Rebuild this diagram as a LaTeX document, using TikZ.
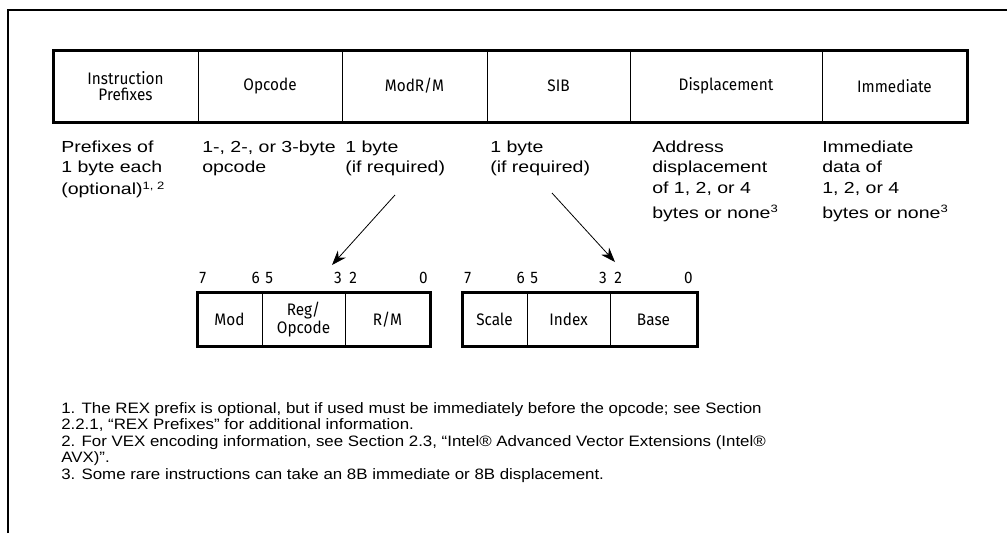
\documentclass[tikz,border=0pt]{standalone}
\usepackage{fontspec}
\setmainfont{Liberation Sans}
\newfontfamily\clearfont[FakeStretch=0.92]{Fira Sans}
\newfontfamily\descfont[FakeStretch=1.22]{Liberation Sans}
\newfontfamily\notefont[FakeStretch=1.12]{Liberation Sans}
\usetikzlibrary{arrows.meta, positioning}

\tikzset{
  field/.style={draw, line width=0.75pt, inner sep=0pt, outer sep=0pt,
    minimum height=54pt, align=center,
    font=\clearfont\fontsize{12.5}{12}\selectfont},
  bitfield/.style={draw, line width=0.75pt, inner sep=0pt, outer sep=0pt,
    minimum height=41pt, align=center,
    font=\clearfont\fontsize{12.5}{13}\selectfont},
  bitno/.style={inner sep=0pt, font=\clearfont\fontsize{12.5}{12}\selectfont},
  desc/.style={anchor=north west, inner sep=0pt, align=left,
    font=\descfont\fontsize{12}{15.5}\selectfont},
  note/.style={anchor=north west, inner sep=0pt, align=left,
    font=\notefont\fontsize{11.3}{12.4}\selectfont},
  pointer/.style={line width=0.6pt, -{Stealth[length=11pt, width=8pt]}},
  outline/.style={line width=2.25pt}
}

\begin{document}
\begin{tikzpicture}[x=0.75pt, y=-0.75pt]
  \useasboundingbox (0,0) rectangle (1007,533);

  % page frame
  \draw[line width=1.9pt] (8,533) -- (8,10) -- (1007,10);

  % instruction format fields
  \foreach \name/\l/\r/\txt in {prefix/53/198/{Instruction\\Prefixes},
      opcode/198/342/Opcode, modrm/342/487/{ModR/M}, sib/487/630/SIB,
      disp/630/822/Displacement, imm/822/967/Immediate} {
    \node[field, minimum width={(\r-\l)*0.75pt}] (\name) at ({(\l+\r)/2},86) {\txt};
  }
  \draw[outline] (prefix.north west) rectangle (imm.south east);

  % field descriptions
  \node[desc] (prefixtxt) at (61,140.3) {Prefixes of\\1 byte each\\[1pt](optional)\textsuperscript{1, 2}};
  \node[desc] (opcodetxt) at (202,140.3) {1-, 2-, or 3-byte\\opcode};
  \node[desc] (modrmtxt) at (345,140.3) {1 byte\\(if required)};
  \node[desc] (sibtxt) at (490,140.3) {1 byte\\(if required)};
  \node[desc] (disptxt) at (652,140.3) {Address\\displacement\\of 1, 2, or 4\\[3pt]bytes or none\textsuperscript{3}};
  \node[desc] (immtxt) at (822,140.3) {Immediate\\data of\\1, 2, or 4\\[3pt]bytes or none\textsuperscript{3}};

  % ModR/M and SIB byte layouts
  \foreach \name/\l/\r/\txt in {mod/197/262/Mod, reg/262/345/{Reg/\\Opcode}, rm/345/430/{R/M},
      scale/462/527/Scale, index/527/610/Index, base/610/697/Base} {
    \node[bitfield, minimum width={(\r-\l)*0.75pt}] (\name) at ({(\l+\r)/2},319.5) {\txt};
  }
  \draw[outline] (mod.north west) rectangle (rm.south east);
  \draw[outline] (scale.north west) rectangle (base.south east);

  % bit numbers
  \foreach \o/\pre in {0/m, 265/s} {
    \node[bitno, anchor=base west] (\pre7) at (199+\o,283) {7};
    \node[bitno, anchor=base east] (\pre6) at (260+\o,283) {6};
    \node[bitno, anchor=base west] (\pre5) at (265+\o,283) {5};
    \node[bitno, anchor=base east] (\pre3) at (342+\o,283) {3};
    \node[bitno, anchor=base west] (\pre2) at (349+\o,283) {2};
    \node[bitno, anchor=base east] (\pre0) at (428+\o,283) {0};
  }

  % arrows to byte layouts
  \coordinate (modrmfrom) at (395,195);
  \coordinate (modrmto) at (332,265);
  \coordinate (sibfrom) at (552,193);
  \coordinate (sibto) at (615,262);
  \draw[pointer] (modrmfrom) -- (modrmto);
  \draw[pointer] (sibfrom) -- (sibto);

  % footnotes
  \node[note] (notes) at (61,402) {1. The REX prefix is optional, but if used must be immediately before the opcode; see Section\\
    2.2.1, “REX Prefixes” for additional information.\\
    2. For VEX encoding information, see Section 2.3, “Intel® Advanced Vector Extensions (Intel®\\
    AVX)”.\\
    3. Some rare instructions can take an 8B immediate or 8B displacement.};
\end{tikzpicture}
\end{document}
